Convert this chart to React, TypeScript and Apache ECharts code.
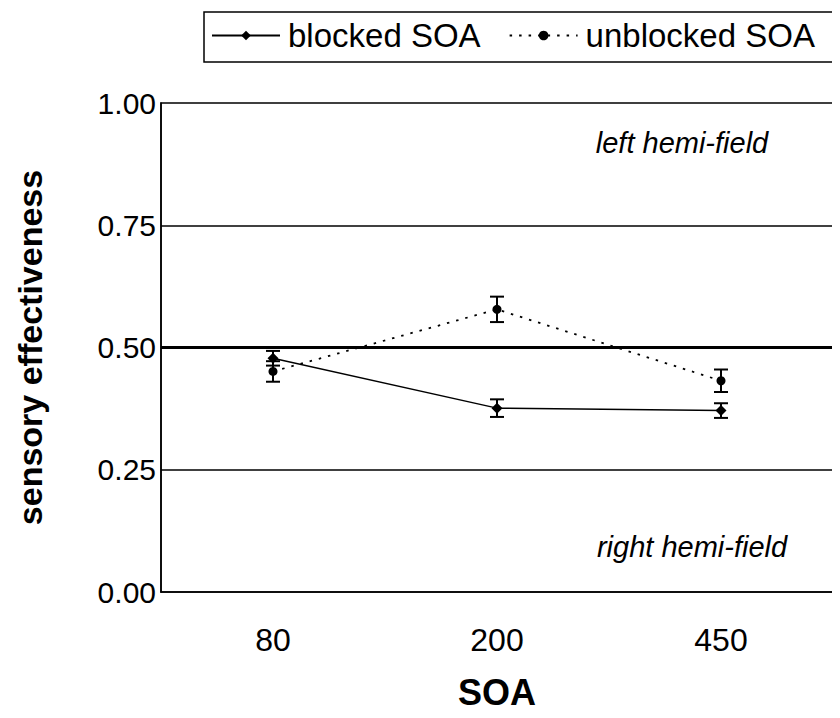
import React, { useEffect, useRef } from "react";
import * as echarts from "echarts";

// SOA conditions (ms) on the category axis
const soaLabels = ["80", "200", "450"];

// Mean sensory effectiveness and half-width of the error bars
const blockedMeans = [0.478, 0.376, 0.371];
const blockedErr = [0.015, 0.018, 0.015];
const unblockedMeans = [0.451, 0.578, 0.432];
const unblockedErr = [0.021, 0.026, 0.023];

// Horizontal reference lines inside the plot
const guideLines = [0.25, 0.75];
const midLine = 0.5;

const FONT = "Liberation Sans, Arial, Helvetica, sans-serif";

function errorRows(means: number[], errs: number[]) {
  return means.map((m, i) => [i, m - errs[i], m + errs[i]]);
}

function errorBarSeries(name: string, means: number[], errs: number[]) {
  return {
    type: "custom",
    name,
    silent: true,
    z: 4,
    data: errorRows(means, errs),
    renderItem: (params: any, api: any) => {
      const x = api.value(0);
      const lo = api.coord([x, api.value(1)]);
      const hi = api.coord([x, api.value(2)]);
      const half = 7;
      const style = { stroke: "#000", lineWidth: 2 };
      return {
        type: "group",
        children: [
          { type: "line", shape: { x1: lo[0], y1: lo[1], x2: hi[0], y2: hi[1] }, style },
          { type: "line", shape: { x1: lo[0] - half, y1: lo[1], x2: lo[0] + half, y2: lo[1] }, style },
          { type: "line", shape: { x1: hi[0] - half, y1: hi[1], x2: hi[0] + half, y2: hi[1] }, style },
        ],
      };
    },
  };
}

export default function App() {
  const ref = useRef<HTMLDivElement>(null);

  useEffect(() => {
    if (!ref.current) return;
    const chart = echarts.init(ref.current, null, { renderer: "svg" });
    chart.setOption({
      animation: false,
      backgroundColor: "#fff",
      textStyle: { fontFamily: FONT, color: "#000" },
      grid: {
        left: 161,
        right: 7,
        top: 103,
        bottom: 126,
        show: true,
        borderColor: "#000",
        borderWidth: 1.5,
      },
      legend: {
        left: 211,
        top: 19,
        padding: 0,
        itemWidth: 68,
        itemHeight: 12,
        itemGap: 28,
        selectedMode: false,
        textStyle: { fontFamily: FONT, fontSize: 33, color: "#000", padding: [0, 0, 0, 3] },
        data: ["blocked SOA", "unblocked SOA"],
      },
      xAxis: {
        type: "category",
        data: soaLabels,
        boundaryGap: true,
        axisLine: { lineStyle: { color: "#000", width: 1.5 } },
        axisTick: { show: false },
        axisLabel: { fontSize: 32, color: "#000", margin: 32, fontFamily: FONT },
        name: "SOA",
        nameLocation: "middle",
        nameGap: 82,
        nameTextStyle: { fontSize: 36, fontWeight: "bold", color: "#000", fontFamily: FONT },
      },
      yAxis: {
        type: "value",
        min: 0,
        max: 1,
        interval: 0.25,
        axisLine: { show: true, lineStyle: { color: "#000", width: 1.5 } },
        axisTick: { show: false },
        splitLine: { show: false },
        axisLabel: {
          fontSize: 30,
          color: "#000",
          margin: 5,
          fontFamily: FONT,
          formatter: (v: number) => v.toFixed(2),
        },
        name: "sensory effectiveness",
        nameLocation: "middle",
        nameGap: 114,
        nameTextStyle: { fontSize: 34, fontWeight: "bold", color: "#000", fontFamily: FONT },
      },
      graphic: [
        {
          type: "rect",
          shape: { x: 204, y: 12, width: 634, height: 50 },
          style: { fill: "none", stroke: "#000", lineWidth: 1.5 },
          z: 10,
        },
        {
          type: "text",
          x: 682,
          y: 143,
          style: {
            text: "left hemi-field",
            fontFamily: FONT,
            fontStyle: "italic",
            fontSize: 29,
            fill: "#000",
            align: "center",
            verticalAlign: "middle",
          },
        },
        {
          type: "text",
          x: 692,
          y: 547,
          style: {
            text: "right hemi-field",
            fontFamily: FONT,
            fontStyle: "italic",
            fontSize: 29,
            fill: "#000",
            align: "center",
            verticalAlign: "middle",
          },
        },
      ],
      series: [
        {
          type: "line",
          name: "blocked SOA",
          data: blockedMeans,
          symbol: "diamond",
          symbolSize: 11,
          z: 5,
          itemStyle: { color: "#000" },
          lineStyle: { color: "#000", width: 1.5, type: "solid" },
          markLine: {
            silent: true,
            symbol: "none",
            label: { show: false },
            data: [
              ...guideLines.map((v) => ({ yAxis: v, lineStyle: { color: "#000", width: 1.5, type: "solid" } })),
              { yAxis: midLine, lineStyle: { color: "#000", width: 3, type: "solid" } },
            ],
          },
        },
        {
          type: "line",
          name: "unblocked SOA",
          data: unblockedMeans,
          symbol: "circle",
          symbolSize: 9,
          z: 5,
          itemStyle: { color: "#000" },
          lineStyle: { color: "#000", width: 1.8, type: [2.5, 7] },
        },
        errorBarSeries("blocked SOA err", blockedMeans, blockedErr),
        errorBarSeries("unblocked SOA err", unblockedMeans, unblockedErr),
      ],
    });
    return () => chart.dispose();
  }, []);

  return <div ref={ref} style={{ width: 840, height: 718, margin: -8 }} />;
}
